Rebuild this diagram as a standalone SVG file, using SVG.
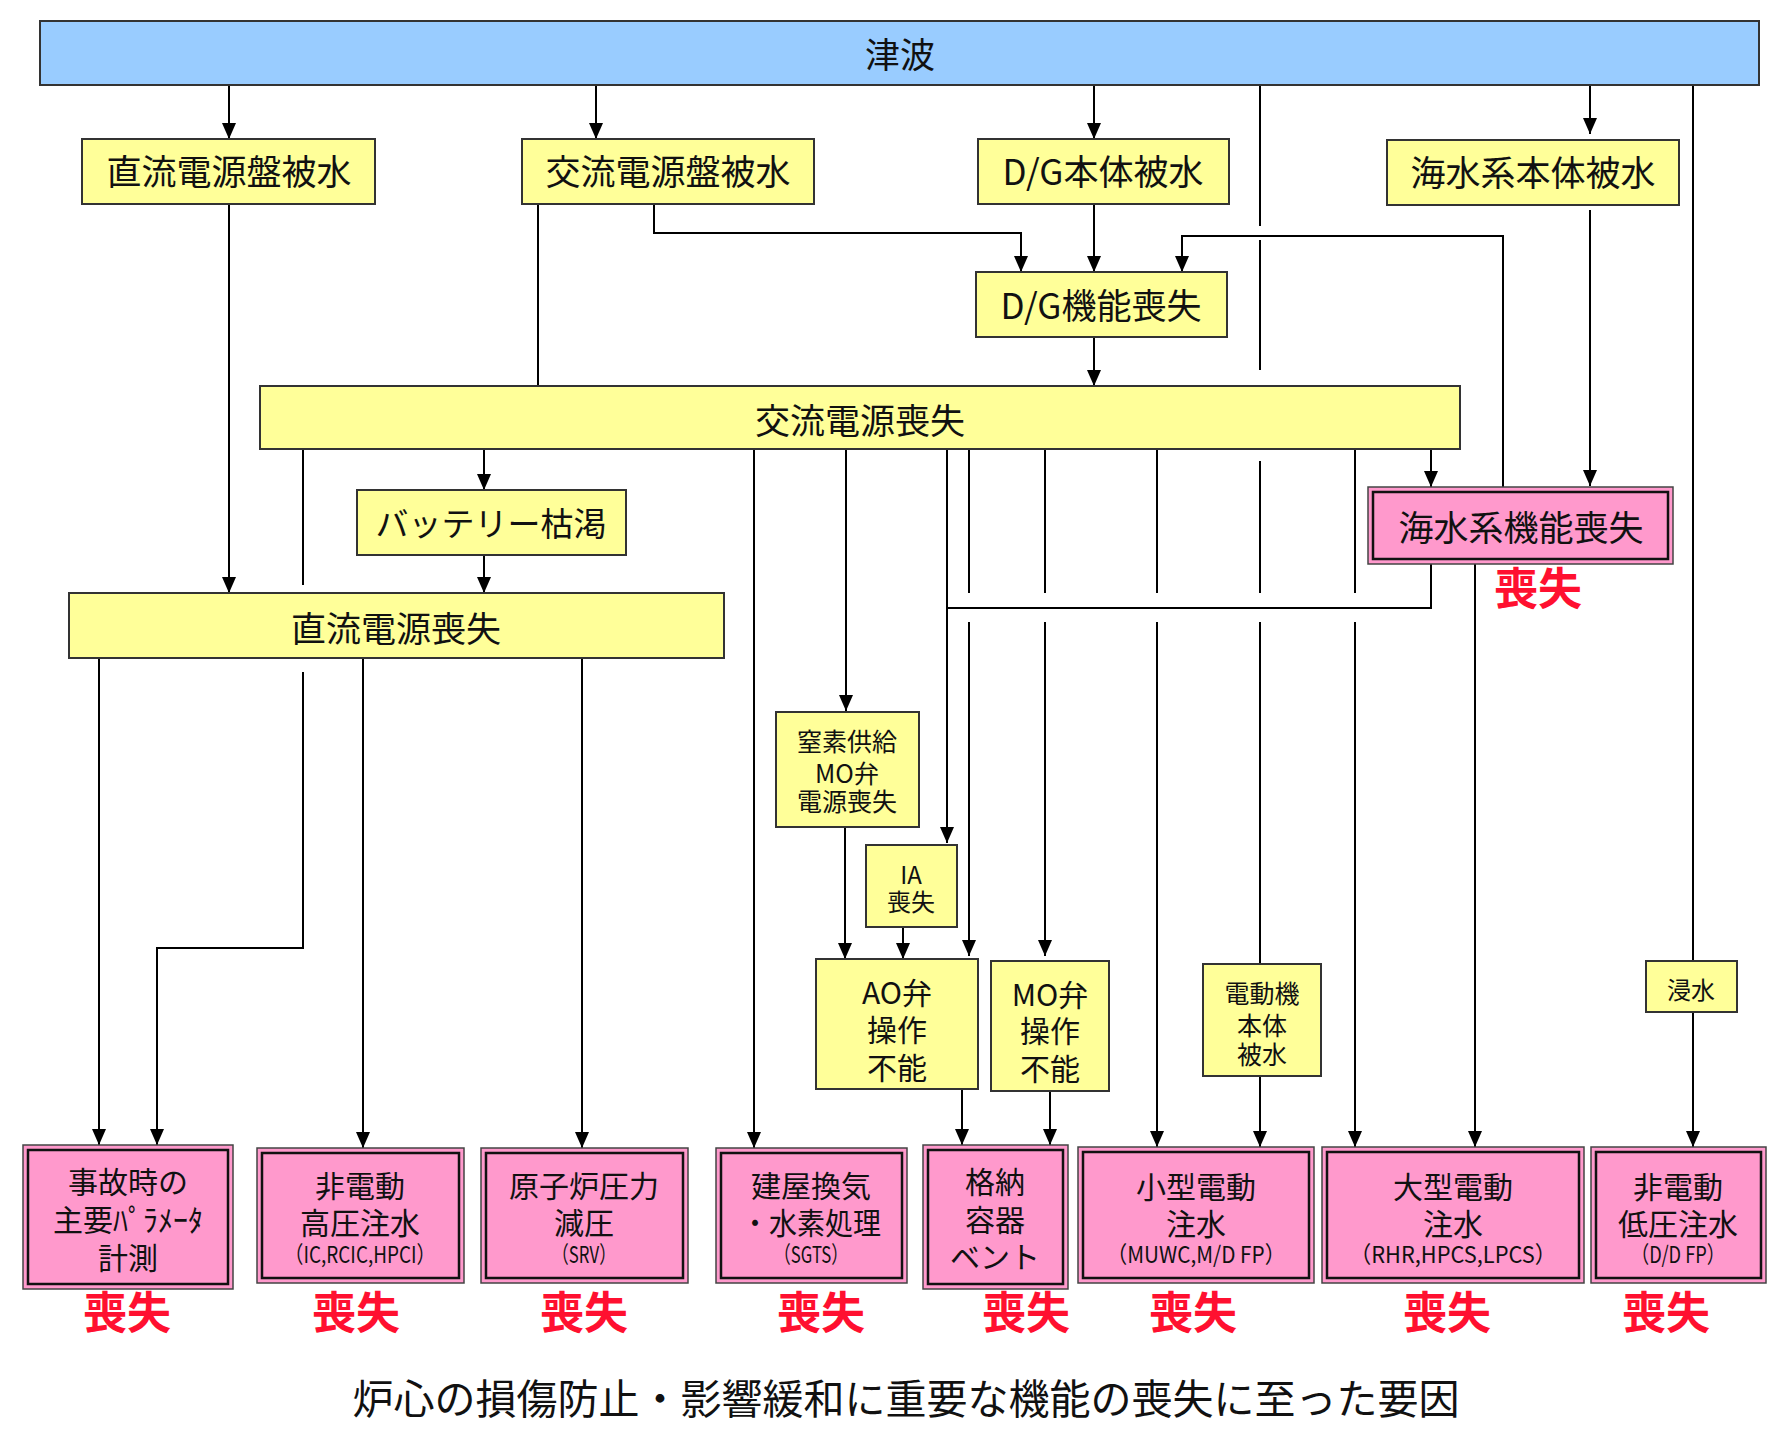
<svg xmlns="http://www.w3.org/2000/svg" width="1791" height="1435" viewBox="0 0 1791 1435">
<style>
.bl{fill:#99CCFF;stroke:#333;stroke-width:2}
.yb{fill:#FFFF99;stroke:#333;stroke-width:2}
.po{fill:#FF99CC;stroke:#444;stroke-width:1.5}
.pi{fill:none;stroke:#111;stroke-width:2.5}
text{font-family:"Noto Sans CJK JP","Noto Sans",sans-serif;fill:#111;text-anchor:middle}
.f35{font-size:35px}
.f33{font-size:33px}
.f30{font-size:30px}
.f25{font-size:25px}
.f24{font-size:24px}
.f23{font-size:23px}
.f41{font-size:41px}
.red{font-size:44px;font-weight:bold;fill:#FF1030}
.c{fill:none;stroke:#000;stroke-width:2}
.a{marker-end:url(#ah)}
</style>
<defs>
<marker id="ah" markerUnits="userSpaceOnUse" markerWidth="16" markerHeight="14" viewBox="0 0 16 14" refX="16" refY="7" orient="auto">
<path d="M0,0 L16,7 L0,14 z" fill="#000"/>
</marker>
</defs>
<rect width="1791" height="1435" fill="#fff"/>

<g id="connectors">
<path class="c a" d="M229,85 V139"/>
<path class="c a" d="M596,85 V139"/>
<path class="c a" d="M1094,85 V139"/>
<path class="c a" d="M1590,85 V134"/>
<path class="c" d="M1260,85 V226 M1260,240 V370 M1260,461 V593 M1260,622 V964"/>
<path class="c" d="M1693,85 V961"/>
<path class="c a" d="M229,204 V593"/>
<path class="c" d="M538,204 V386"/>
<path class="c a" d="M654,204 V233 H1021 V272"/>
<path class="c a" d="M1094,204 V272"/>
<path class="c a" d="M1503,487 V236 H1182 V272"/>
<path class="c a" d="M1590,210 V486"/>
<path class="c a" d="M1094,337 V386"/>
<path class="c" d="M303,449 V585"/>
<path class="c a" d="M303,672 V948 H157 V1145"/>
<path class="c a" d="M484,449 V490"/>
<path class="c a" d="M484,555 V593"/>
<path class="c a" d="M99,658 V1145"/>
<path class="c a" d="M363,658 V1148"/>
<path class="c a" d="M582,658 V1148"/>
<path class="c a" d="M754,449 V1148"/>
<path class="c a" d="M846,449 V711"/>
<path class="c a" d="M947,449 V843"/>
<path class="c" d="M1431,564 V608 H947"/>
<path class="c" d="M969,449 V593"/>
<path class="c a" d="M969,622 V956"/>
<path class="c" d="M1045,449 V593"/>
<path class="c a" d="M1045,622 V956"/>
<path class="c" d="M1157,449 V593"/>
<path class="c a" d="M1157,622 V1147"/>
<path class="c" d="M1355,449 V593"/>
<path class="c a" d="M1355,622 V1147"/>
<path class="c a" d="M1431,449 V487"/>
<path class="c a" d="M1475,564 V1147"/>
<path class="c a" d="M845,827 V959"/>
<path class="c a" d="M903,927 V959"/>
<path class="c a" d="M962,1089 V1145"/>
<path class="c a" d="M1050,1091 V1145"/>
<path class="c a" d="M1260,1076 V1147"/>
<path class="c a" d="M1693,1012 V1147"/>
</g>

<g id="tsunami">
<rect class="bl" x="40" y="21" width="1719" height="64"/>
<text class="f35" x="900" y="68">津波</text>
</g>

<g id="dc-panel-flood">
<rect class="yb" x="82" y="139" width="293" height="65"/>
<text class="f35" x="229" y="185">直流電源盤被水</text>
</g>
<g id="ac-panel-flood">
<rect class="yb" x="522" y="139" width="292" height="65"/>
<text class="f35" x="668" y="185">交流電源盤被水</text>
</g>
<g id="dg-body-flood">
<rect class="yb" x="978" y="139" width="251" height="65"/>
<text class="f35" x="1103" y="185">D/G本体被水</text>
</g>
<g id="sw-body-flood">
<rect class="yb" x="1387" y="140" width="292" height="65"/>
<text class="f35" x="1533" y="186">海水系本体被水</text>
</g>
<g id="dg-loss">
<rect class="yb" x="976" y="272" width="251" height="65"/>
<text class="f35" x="1101" y="319">D/G機能喪失</text>
</g>
<g id="ac-loss">
<rect class="yb" x="260" y="386" width="1200" height="63"/>
<text class="f35" x="860" y="434">交流電源喪失</text>
</g>
<g id="battery">
<rect class="yb" x="357" y="490" width="269" height="65"/>
<text class="f33" x="491" y="536">バッテリー枯渇</text>
</g>
<g id="dc-loss">
<rect class="yb" x="69" y="593" width="655" height="65"/>
<text class="f35" x="396" y="642">直流電源喪失</text>
</g>
<g id="sw-loss">
<rect class="po" x="1368" y="487" width="305" height="77"/>
<rect class="pi" x="1373" y="492" width="295" height="67"/>
<text class="f35" x="1521" y="541">海水系機能喪失</text>
<text class="red" x="1538" y="605">喪失</text>
</g>
<g id="n2-mo">
<rect class="yb" x="776" y="712" width="143" height="115"/>
<text class="f25"><tspan x="847" y="751">窒素供給</tspan><tspan x="847" y="783">MO弁</tspan><tspan x="847" y="811">電源喪失</tspan></text>
</g>
<g id="ia-loss">
<rect class="yb" x="866" y="845" width="91" height="82"/>
<text class="f24"><tspan x="911" y="884">IA</tspan><tspan x="911" y="911">喪失</tspan></text>
</g>
<g id="ao-valve">
<rect class="yb" x="816" y="959" width="162" height="130"/>
<text class="f30"><tspan x="897" y="1004">AO弁</tspan><tspan x="897" y="1041">操作</tspan><tspan x="897" y="1079">不能</tspan></text>
</g>
<g id="mo-valve">
<rect class="yb" x="991" y="961" width="118" height="130"/>
<text class="f30"><tspan x="1050" y="1006">MO弁</tspan><tspan x="1050" y="1042">操作</tspan><tspan x="1050" y="1080">不能</tspan></text>
</g>
<g id="motor-flood">
<rect class="yb" x="1203" y="964" width="118" height="112"/>
<text class="f25"><tspan x="1262" y="1003">電動機</tspan><tspan x="1262" y="1035">本体</tspan><tspan x="1262" y="1064">被水</tspan></text>
</g>
<g id="inundation">
<rect class="yb" x="1646" y="961" width="91" height="51"/>
<text class="f24" x="1691" y="999">浸水</text>
</g>

<g id="param-measure">
<rect class="po" x="23" y="1145" width="210" height="144"/>
<rect class="pi" x="28" y="1150" width="200" height="134"/>
<text class="f30"><tspan x="128" y="1193">事故時の</tspan><tspan x="128" y="1231">主要ﾊﾟﾗﾒｰﾀ</tspan><tspan x="128" y="1269">計測</tspan></text>
<text class="red" x="127" y="1329">喪失</text>
</g>
<g id="hp-injection">
<rect class="po" x="257" y="1148" width="207" height="135"/>
<rect class="pi" x="262" y="1153" width="197" height="125"/>
<text class="f30"><tspan x="360" y="1197">非電動</tspan><tspan x="360" y="1234">高圧注水</tspan><tspan class="f23" x="360" y="1263" textLength="151" lengthAdjust="spacingAndGlyphs">（IC,RCIC,HPCI）</tspan></text>
<text class="red" x="356" y="1329">喪失</text>
</g>
<g id="depressurize">
<rect class="po" x="481" y="1148" width="207" height="135"/>
<rect class="pi" x="486" y="1153" width="197" height="125"/>
<text class="f30"><tspan x="584" y="1197">原子炉圧力</tspan><tspan x="584" y="1234">減圧</tspan><tspan class="f23" x="584" y="1263" textLength="64" lengthAdjust="spacingAndGlyphs">（SRV）</tspan></text>
<text class="red" x="584" y="1329">喪失</text>
</g>
<g id="building-vent">
<rect class="po" x="716" y="1148" width="191" height="135"/>
<rect class="pi" x="721" y="1153" width="181" height="125"/>
<text class="f30"><tspan x="811" y="1197">建屋換気</tspan><tspan x="811" y="1234" textLength="140" lengthAdjust="spacingAndGlyphs">・水素処理</tspan><tspan class="f23" x="811" y="1263" textLength="74" lengthAdjust="spacingAndGlyphs">（SGTS）</tspan></text>
<text class="red" x="821" y="1329">喪失</text>
</g>
<g id="containment-vent">
<rect class="po" x="923" y="1145" width="145" height="144"/>
<rect class="pi" x="928" y="1150" width="135" height="134"/>
<text class="f30"><tspan x="995" y="1193">格納</tspan><tspan x="995" y="1231">容器</tspan><tspan x="995" y="1268">ベント</tspan></text>
<text class="red" x="1026" y="1329">喪失</text>
</g>
<g id="small-motor-injection">
<rect class="po" x="1078" y="1147" width="236" height="136"/>
<rect class="pi" x="1083" y="1152" width="226" height="126"/>
<text class="f30"><tspan x="1196" y="1198">小型電動</tspan><tspan x="1196" y="1235">注水</tspan><tspan class="f23" x="1196" y="1263" textLength="179" lengthAdjust="spacingAndGlyphs">（MUWC,M/D FP）</tspan></text>
<text class="red" x="1193" y="1329">喪失</text>
</g>
<g id="large-motor-injection">
<rect class="po" x="1322" y="1147" width="262" height="136"/>
<rect class="pi" x="1327" y="1152" width="252" height="126"/>
<text class="f30"><tspan x="1453" y="1198">大型電動</tspan><tspan x="1453" y="1235">注水</tspan><tspan class="f23" x="1453" y="1263" textLength="207" lengthAdjust="spacingAndGlyphs">（RHR,HPCS,LPCS）</tspan></text>
<text class="red" x="1447" y="1329">喪失</text>
</g>
<g id="lp-injection">
<rect class="po" x="1591" y="1147" width="175" height="136"/>
<rect class="pi" x="1596" y="1152" width="165" height="126"/>
<text class="f30"><tspan x="1678" y="1198">非電動</tspan><tspan x="1678" y="1235">低圧注水</tspan><tspan class="f23" x="1678" y="1263" textLength="94" lengthAdjust="spacingAndGlyphs">（D/D FP）</tspan></text>
<text class="red" x="1666" y="1329">喪失</text>
</g>

<g id="caption">
<text class="f41" x="906" y="1414">炉心の損傷防止・影響緩和に重要な機能の喪失に至った要因</text>
</g>
</svg>
